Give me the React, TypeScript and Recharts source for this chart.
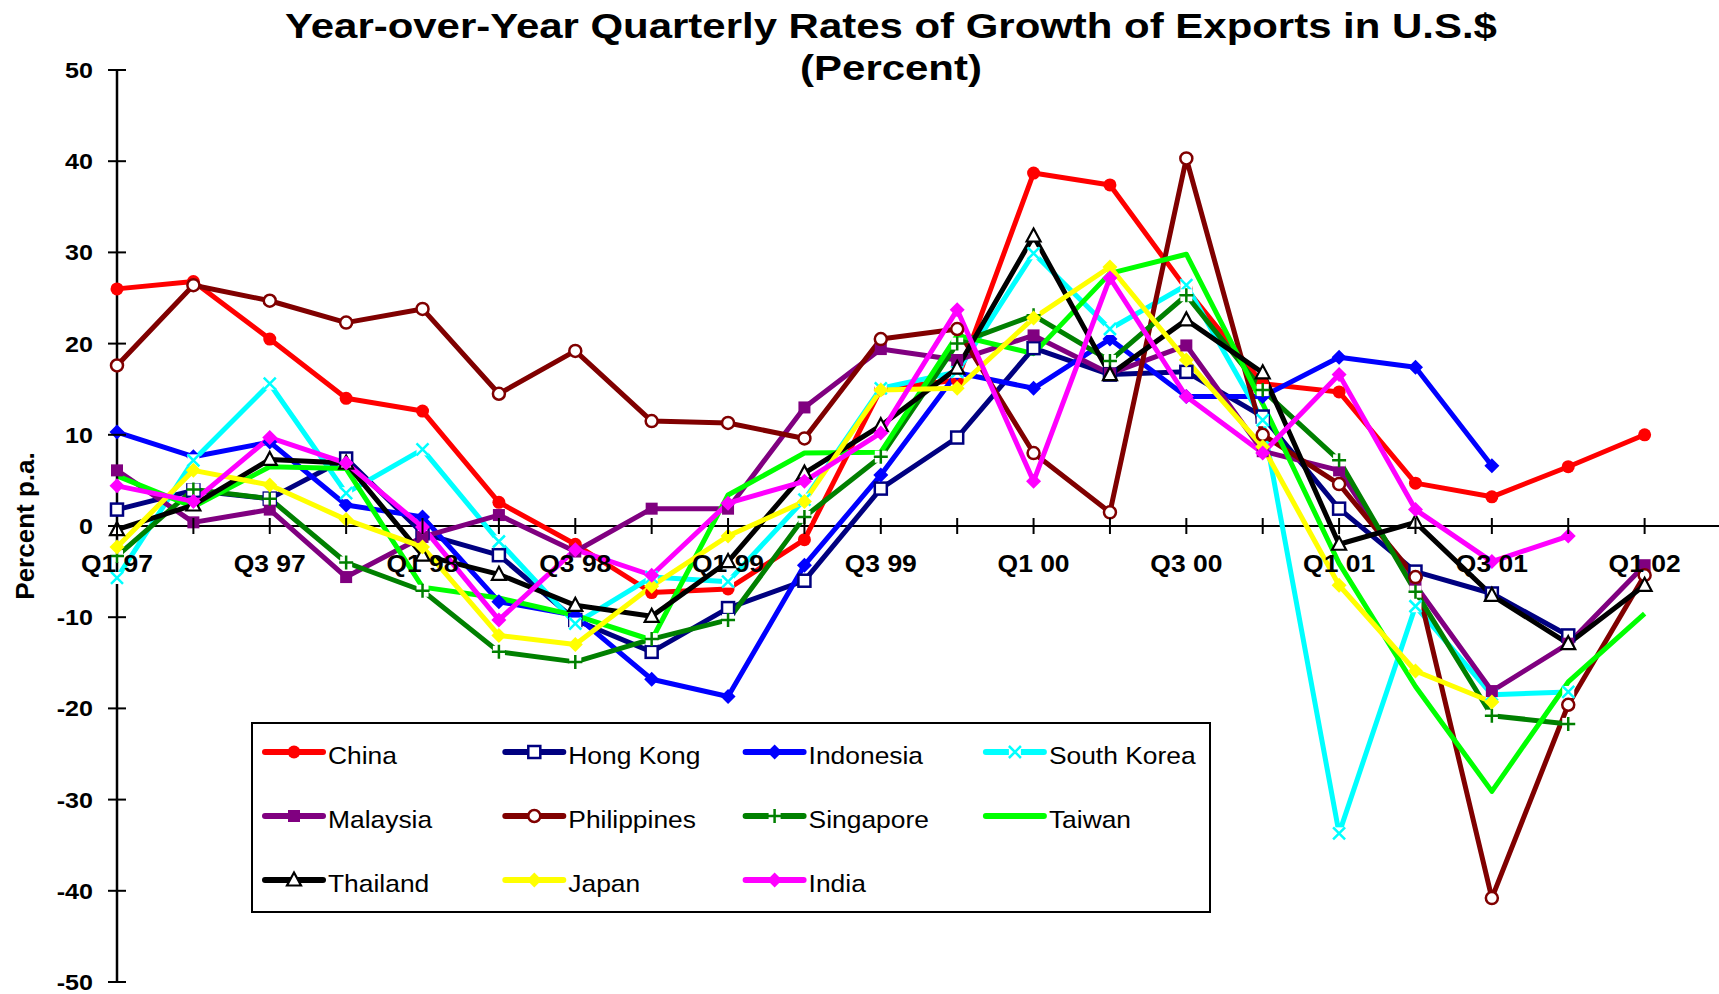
import React from 'react';
import { LineChart, Line, XAxis, YAxis, ReferenceLine, Legend } from 'recharts';

const quarters = ['Q1 97','Q2 97','Q3 97','Q4 97','Q1 98','Q2 98','Q3 98','Q4 98','Q1 99','Q2 99','Q3 99','Q4 99','Q1 00','Q2 00','Q3 00','Q4 00','Q1 01','Q2 01','Q3 01','Q4 01','Q1 02','Q2 02'];

const china = [26.0, 26.8, 20.5, 14.0, 12.6, 2.6, -2.0, -7.3, -6.9, -1.5, 15.0, 16.0, 38.7, 37.4, 26.0, 15.6, 14.7, 4.7, 3.2, 6.5, 10.0, null];
const hongKong = [1.8, 3.9, 3.0, 7.4, -0.8, -3.2, -10.3, -13.8, -9.0, -6.0, 4.1, 9.7, 19.5, 16.6, 16.9, 12.0, 1.9, -5.0, -7.4, -12.0, null, null];
const indonesia = [10.3, 7.6, 9.2, 2.3, 1.0, -8.3, -9.8, -16.8, -18.7, -4.3, 5.6, 16.8, 15.1, 20.5, 14.2, 14.2, 18.5, 17.4, 6.6, null, null, null];
const southKorea = [-5.7, 7.2, 15.6, 3.6, 8.4, -1.7, -10.7, -5.6, -6.1, 2.9, 15.1, 16.9, 29.9, 21.6, 26.4, 11.6, -33.7, -8.8, -18.5, -18.2, null, null];
const malaysia = [6.1, 0.4, 1.8, -5.6, -1.2, 1.2, -2.8, 1.9, 1.9, 13.0, 19.4, 18.2, 20.9, 16.7, 19.8, 8.2, 6.1, -6.5, -18.1, -12.9, -4.3, null];
const philippines = [17.6, 26.4, 24.7, 22.3, 23.8, 14.5, 19.2, 11.5, 11.3, 9.6, 20.5, 21.6, 8.0, 1.5, 40.3, 10.0, 4.6, -5.6, -40.8, -19.6, -5.4, null];
const singapore = [-3.3, 4.0, 3.0, -4.0, -7.1, -13.8, -14.9, -12.4, -10.3, 1.0, 7.6, 20.0, 23.1, 18.1, 25.3, 14.9, 7.2, -7.2, -20.8, -21.7, null, null];
const taiwan = [5.5, 2.1, 6.5, 6.3, -6.7, -7.9, -9.8, -12.5, 3.4, 8.0, 8.1, 20.9, 18.9, 27.7, 29.8, 13.4, -4.1, -17.6, -29.1, -17.1, -9.6, null];
const thailand = [-0.4, 2.3, 7.3, 6.9, -3.2, -5.3, -8.7, -9.9, -3.9, 5.8, 11.0, 17.3, 31.8, 16.6, 22.6, 16.8, -2.0, 0.4, -7.6, -12.9, -6.5, null];
const japan = [-2.3, 6.1, 4.5, 0.7, -2.3, -12.0, -13.0, -6.6, -1.1, 2.7, 14.9, 15.1, 22.8, 28.4, 18.2, 8.7, -6.5, -15.9, -19.3, null, null, null];
const india = [4.4, 2.7, 9.7, 6.9, -0.1, -10.3, -2.6, -5.4, 2.5, 4.9, 10.2, 23.7, 4.9, 27.2, 14.2, 8.0, 16.6, 1.8, -3.9, -1.1, null, null];

const yTicks = [-50, -40, -30, -20, -10, 0, 10, 20, 30, 40, 50];

const SERIES = [
  { name: 'China', values: china, color: '#FF0000', marker: 'circle' },
  { name: 'Hong Kong', values: hongKong, color: '#000080', marker: 'openSquare' },
  { name: 'Indonesia', values: indonesia, color: '#0000FF', marker: 'diamond' },
  { name: 'South Korea', values: southKorea, color: '#00FFFF', marker: 'x' },
  { name: 'Malaysia', values: malaysia, color: '#800080', marker: 'square' },
  { name: 'Philippines', values: philippines, color: '#800000', marker: 'openCircle' },
  { name: 'Singapore', values: singapore, color: '#008000', marker: 'plus' },
  { name: 'Taiwan', values: taiwan, color: '#00FF00', marker: 'none' },
  { name: 'Thailand', values: thailand, color: '#000000', marker: 'triangle' },
  { name: 'Japan', values: japan, color: '#FFFF00', marker: 'diamond' },
  { name: 'India', values: india, color: '#FF00FF', marker: 'diamond' },
];

const data = quarters.map((q, i) => {
  const row: any = { q };
  SERIES.forEach((s) => { row[s.name] = s.values[i]; });
  return row;
});

const FONT = '"Liberation Sans", Arial, Helvetica, sans-serif';
const W = 1719;
const H = 994;
const X_AXIS_H = 10;
const MARGIN = { top: 70, right: -2, bottom: 2, left: 0 };
const Y_MIN = -50;
const Y_MAX = 50;
const PLOT_H = H - MARGIN.top - MARGIN.bottom - X_AXIS_H;
const ZERO_Y = MARGIN.top + (PLOT_H * Y_MAX) / (Y_MAX - Y_MIN);

function Marker({ kind, color, cx, cy }: any) {
  switch (kind) {
    case 'circle':
      return <circle cx={cx} cy={cy} r={6.5} fill={color} />;
    case 'openSquare':
      return <rect x={cx - 6} y={cy - 6} width={12} height={12} fill="#fff" stroke={color} strokeWidth={2.5} />;
    case 'diamond':
      return <polygon points={`${cx},${cy - 7.5} ${cx + 7.5},${cy} ${cx},${cy + 7.5} ${cx - 7.5},${cy}`} fill={color} />;
    case 'x':
      return (
        <g>
          <rect x={cx - 6} y={cy - 6} width={12} height={12} fill="#fff" />
          <path d={`M${cx - 6},${cy - 6}L${cx + 6},${cy + 6}M${cx - 6},${cy + 6}L${cx + 6},${cy - 6}`} stroke={color} strokeWidth={2.5} />
        </g>
      );
    case 'square':
      return <rect x={cx - 6} y={cy - 6} width={12} height={12} fill={color} />;
    case 'openCircle':
      return <circle cx={cx} cy={cy} r={6} fill="#fff" stroke={color} strokeWidth={2.5} />;
    case 'plus':
      return (
        <g>
          <rect x={cx - 6} y={cy - 6} width={12} height={12} fill="#fff" />
          <path d={`M${cx - 7},${cy}L${cx + 7},${cy}M${cx},${cy - 7}L${cx},${cy + 7}`} stroke={color} strokeWidth={2.5} />
        </g>
      );
    case 'triangle':
      return <polygon points={`${cx},${cy - 7.5} ${cx + 7},${cy + 5.5} ${cx - 7},${cy + 5.5}`} fill="#fff" stroke={color} strokeWidth={2.2} />;
    default:
      return null;
  }
}

function makeDot(s: any) {
  return (props: any) => {
    const { cx, cy, value, index } = props;
    const k = `${s.name}-dot-${index}`;
    if (cx == null || cy == null || value == null || s.marker === 'none') return <g key={k} />;
    return (
      <g key={k}>
        <Marker kind={s.marker} color={s.color} cx={cx} cy={cy} />
      </g>
    );
  };
}

function renderXTick(props: any) {
  const { x, index, payload } = props;
  return (
    <g key={`xt-${index}`}>
      <line x1={x} x2={x} y1={ZERO_Y - 8} y2={ZERO_Y + 8} stroke="#000" strokeWidth={2} />
      {index % 2 === 0 ? (
        <text
          transform={`translate(${x},${ZERO_Y + 46}) scale(1.15,1)`}
          textAnchor="middle"
          fontFamily={FONT}
          fontWeight="bold"
          fontSize={23}
          fill="#000"
        >
          {payload.value}
        </text>
      ) : null}
    </g>
  );
}

function renderYTick(props: any) {
  const { x, y, payload, index } = props;
  return (
    <g key={`yt-${index}`}>
      <line x1={x - 9} x2={x + 9} y1={y} y2={y} stroke="#000" strokeWidth={2} />
      <text
        transform={`translate(${x - 24},${y + 8}) scale(1.14,1)`}
        textAnchor="end"
        fontFamily={FONT}
        fontWeight="bold"
        fontSize={22}
        fill="#000"
      >
        {payload.value}
      </text>
    </g>
  );
}

function YLabel(props: any) {
  const vb = props.viewBox || {};
  const cy = (vb.y || 0) + (vb.height || 0) / 2;
  return (
    <text
      transform={`translate(34,${cy}) rotate(-90)`}
      textAnchor="middle"
      fontFamily={FONT}
      fontWeight="bold"
      fontSize={26}
      fill="#000"
    >
      Percent p.a.
    </text>
  );
}

function LegendBox() {
  return (
    <svg width={961} height={192} style={{ display: 'block' }}>
      <rect x={1} y={1} width={958} height={189} fill="#fff" stroke="#000" strokeWidth={2} />
      {SERIES.map((s, i) => {
        const col = i % 4;
        const row = Math.floor(i / 4);
        const x0 = 14 + col * 240.3;
        const y0 = 30 + row * 64;
        return (
          <g key={s.name}>
            <line x1={x0} x2={x0 + 58} y1={y0} y2={y0} stroke={s.color} strokeWidth={6} strokeLinecap="round" />
            <Marker kind={s.marker} color={s.color} cx={x0 + 29} cy={y0} />
            <text
              transform={`translate(${x0 + 63},${y0 + 12}) scale(1.1,1)`}
              fontFamily={FONT}
              fontSize={24}
              fill="#000"
            >
              {s.name}
            </text>
          </g>
        );
      })}
    </svg>
  );
}

export default function App() {
  return (
    <div style={{ position: 'fixed', left: 0, top: 0, width: W, height: H, background: '#fff', overflow: 'hidden' }}>
      <svg width={W} height={100} style={{ position: 'absolute', left: 0, top: 0, zIndex: 2, pointerEvents: 'none' }}>
        <text
          transform="translate(891,38) scale(1.165,1)"
          textAnchor="middle"
          fontFamily={FONT}
          fontWeight="bold"
          fontSize={36}
          fill="#000"
        >
          Year-over-Year Quarterly Rates of Growth of Exports in U.S.$
        </text>
        <text
          transform="translate(891,80) scale(1.165,1)"
          textAnchor="middle"
          fontFamily={FONT}
          fontWeight="bold"
          fontSize={36}
          fill="#000"
        >
          (Percent)
        </text>
      </svg>
      <LineChart width={W} height={H} data={data} margin={MARGIN}>
        <XAxis
          dataKey="q"
          height={X_AXIS_H}
          interval={0}
          axisLine={false}
          tickLine={false}
          tick={renderXTick}
        />
        <YAxis
          type="number"
          domain={[Y_MIN, Y_MAX]}
          ticks={yTicks}
          width={117}
          interval={0}
          tickSize={0}
          tickMargin={0}
          tickLine={false}
          axisLine={{ stroke: '#000', strokeWidth: 2.5 }}
          tick={renderYTick}
          label={<YLabel />}
        />
        <ReferenceLine y={0} stroke="#000" strokeWidth={2} ifOverflow="visible" />
        {SERIES.map((s) => (
          <Line
            key={s.name}
            type="linear"
            dataKey={s.name}
            stroke={s.color}
            strokeWidth={5}
            strokeLinejoin="round"
            dot={makeDot(s)}
            activeDot={false}
            isAnimationActive={false}
            connectNulls={false}
          />
        ))}
        <Legend
          layout="horizontal"
          verticalAlign="middle"
          align="center"
          wrapperStyle={{ left: 251, top: 722, width: 961, height: 192 }}
          content={() => <LegendBox />}
        />
      </LineChart>
    </div>
  );
}
